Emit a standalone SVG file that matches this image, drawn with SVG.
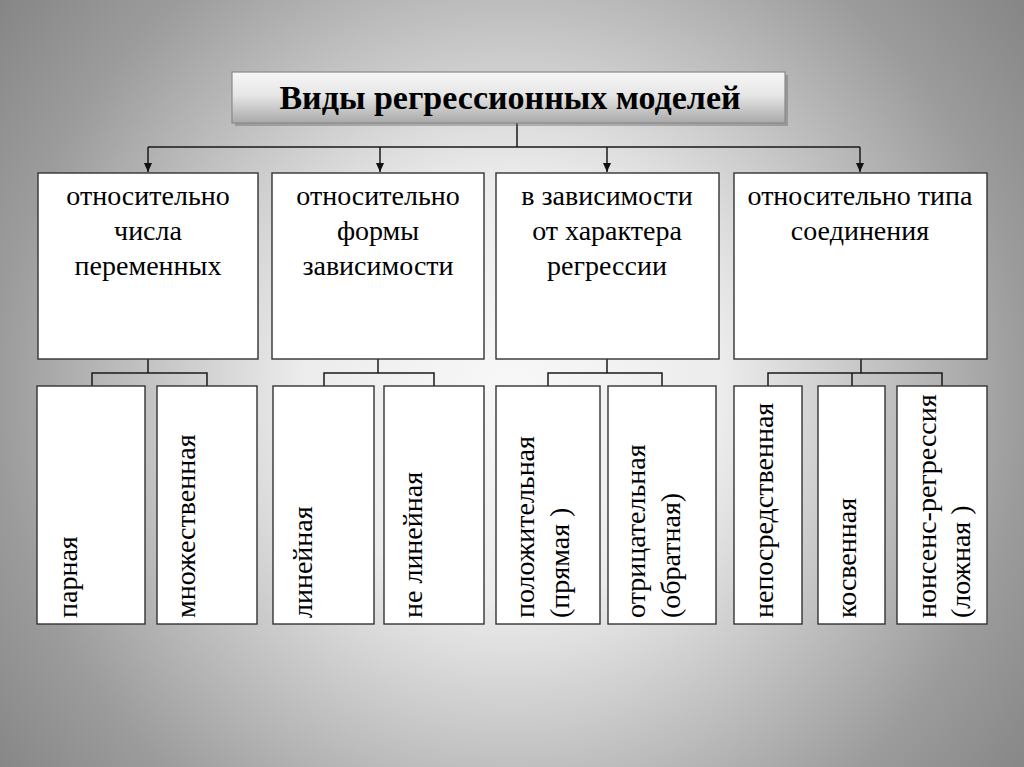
<svg xmlns="http://www.w3.org/2000/svg" width="1024" height="767" viewBox="0 0 1024 767">
<defs>
<radialGradient id="bg" gradientUnits="userSpaceOnUse" cx="512" cy="390" r="700">
<stop offset="0" stop-color="#f8f8f8"/>
<stop offset="0.3" stop-color="#ececec"/>
<stop offset="0.73" stop-color="#9c9c9c"/>
<stop offset="1" stop-color="#7c7c7c"/>
</radialGradient>
<linearGradient id="tg" x1="0" y1="0" x2="0" y2="1">
<stop offset="0" stop-color="#f7f7f7"/>
<stop offset="0.45" stop-color="#e6e6e6"/>
<stop offset="1" stop-color="#a9a9a9"/>
</linearGradient>
<marker id="arr" markerWidth="9" markerHeight="8" refX="9" refY="4" orient="auto" markerUnits="userSpaceOnUse" viewBox="0 0 9 8">
<path d="M0,0 L9,4 L0,8 Z" fill="#111"/>
</marker>
<style>
.box{fill:#fff;stroke:#333;stroke-width:1.4}
.ln{fill:none;stroke:#1a1a1a;stroke-width:1.5}
.t{font-family:"Liberation Serif","Times New Roman",serif;font-size:28px;fill:#000}
.c{text-anchor:middle}
.title{font-family:"Liberation Serif","Times New Roman",serif;font-size:34px;font-weight:bold;fill:#000;text-anchor:middle}
</style>
</defs>
<rect width="1024" height="767" fill="url(#bg)"/>

<g id="connectors">
<path class="ln" d="M517,123 V147 M148,147 H860"/>
<path class="ln" d="M148,147 V172" marker-end="url(#arr)"/>
<path class="ln" d="M380,147 V172" marker-end="url(#arr)"/>
<path class="ln" d="M607,147 V172" marker-end="url(#arr)"/>
<path class="ln" d="M860,147 V172" marker-end="url(#arr)"/>
<path class="ln" d="M148,359 V373 M92,386 V373 H207 V386"/>
<path class="ln" d="M378,359 V373 M324,386 V373 H434 V386"/>
<path class="ln" d="M607,359 V373 M548,386 V373 H662 V386"/>
<path class="ln" d="M861,359 V373 M768,386 V373 H942 V386 M852,373 V386"/>
</g>

<g id="title">
<rect x="235" y="75" width="553" height="51" fill="#555" opacity="0.35"/>
<rect x="232" y="72" width="553" height="51" fill="url(#tg)" stroke="#8a8a8a" stroke-width="1.2"/>
<text class="title" x="510" y="109">Виды регрессионных моделей</text>
</g>

<g id="n1">
<rect class="box" x="38" y="173" width="220" height="186"/>
<text class="t c" x="148" y="205">относительно</text>
<text class="t c" x="148" y="240">числа</text>
<text class="t c" x="148" y="275">переменных</text>
</g>
<g id="n2">
<rect class="box" x="272" y="173" width="212" height="186"/>
<text class="t c" x="378" y="205">относительно</text>
<text class="t c" x="378" y="240">формы</text>
<text class="t c" x="378" y="275">зависимости</text>
</g>
<g id="n3">
<rect class="box" x="496" y="173" width="223" height="186"/>
<text class="t c" x="607" y="205">в зависимости</text>
<text class="t c" x="607" y="240">от характера</text>
<text class="t c" x="607" y="275">регрессии</text>
</g>
<g id="n4">
<rect class="box" x="734" y="173" width="253" height="186"/>
<text class="t c" x="860" y="205">относительно типа</text>
<text class="t c" x="860" y="240">соединения</text>
</g>

<g id="b1">
<rect class="box" x="37" y="386" width="108" height="238"/>
<text class="t" transform="translate(77,618) rotate(-90)">парная</text>
</g>
<g id="b2">
<rect class="box" x="157" y="386" width="100" height="238"/>
<text class="t" transform="translate(195,618) rotate(-90)">множественная</text>
</g>
<g id="b3">
<rect class="box" x="273" y="386" width="101" height="238"/>
<text class="t" transform="translate(312,618) rotate(-90)">линейная</text>
</g>
<g id="b4">
<rect class="box" x="384" y="386" width="100" height="238"/>
<text class="t" transform="translate(422,618) rotate(-90)">не линейная</text>
</g>
<g id="b5">
<rect class="box" x="496" y="386" width="104" height="238"/>
<text class="t" transform="translate(534,618) rotate(-90)">положительная</text>
<text class="t" transform="translate(569,618) rotate(-90)">(прямая )</text>
</g>
<g id="b6">
<rect class="box" x="608" y="386" width="108" height="238"/>
<text class="t" transform="translate(645,618) rotate(-90)">отрицательная</text>
<text class="t" transform="translate(680,618) rotate(-90)">(обратная)</text>
</g>
<g id="b7">
<rect class="box" x="734" y="386" width="68" height="238"/>
<text class="t" transform="translate(773,618) rotate(-90)">непосредственная</text>
</g>
<g id="b8">
<rect class="box" x="818" y="386" width="67" height="238"/>
<text class="t" transform="translate(856,618) rotate(-90)">косвенная</text>
</g>
<g id="b9">
<rect class="box" x="897" y="386" width="90" height="238"/>
<text class="t" transform="translate(936,618) rotate(-90)">нонсенс-регрессия</text>
<text class="t" transform="translate(970,618) rotate(-90)">(ложная )</text>
</g>
</svg>
